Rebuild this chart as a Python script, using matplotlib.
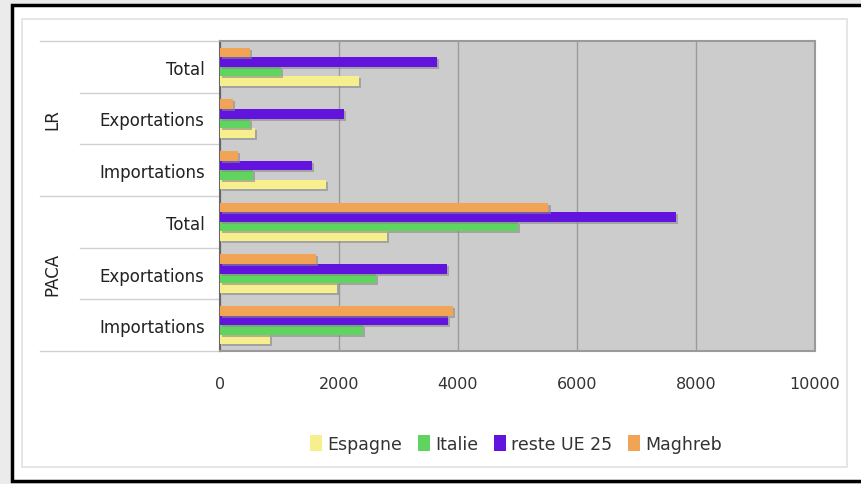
import numpy as np
import matplotlib
matplotlib.use("Agg")
import matplotlib.pyplot as plt
import matplotlib.patheffects as pe
from matplotlib.patches import Rectangle, Patch
from matplotlib.transforms import blended_transform_factory

# Echanges par region (bas -> haut sur l'axe)
categories = ["Importations", "Exportations", "Total",
              "Importations", "Exportations", "Total"]
regions = ["PACA", "LR"]

espagne = [840, 1960, 2800, 1780, 590, 2330]
italie = [2400, 2620, 5000, 550, 500, 1030]
reste_ue = [3830, 3820, 7660, 1540, 2080, 3640]
maghreb = [3920, 1620, 5520, 300, 220, 510]

series = [("Espagne", espagne, "#f7ef8e"),
          ("Italie", italie, "#5fd45f"),
          ("reste UE 25", reste_ue, "#6214de"),
          ("Maghreb", maghreb, "#f2a456")]

W, H = 861, 485
fig = plt.figure(figsize=(W / 100, H / 100), dpi=100, facecolor="#ebebeb")

# cadre noir et panneau blanc
fig.patches.append(Rectangle((12 / W, 1 - 482 / H), 860 / W, 476 / H,
                             transform=fig.transFigure, facecolor="white",
                             edgecolor="black", linewidth=2.5, zorder=-2))
fig.patches.append(Rectangle((22 / W, 1 - 468 / H), 825 / W, 448 / H,
                             transform=fig.transFigure, facecolor="white",
                             edgecolor="#e2e2e2", linewidth=1.2, zorder=-1))

ax = fig.add_axes([220 / W, 1 - 352 / H, 595 / W, 310 / H])
ax.set_facecolor("#cccccc")

y = np.arange(len(categories))
h = 0.185
shadow = [pe.SimplePatchShadow(offset=(1.5, -1.5), shadow_rgbFace="#888888", alpha=0.6),
          pe.Normal()]
handles = []
for i, (name, vals, col) in enumerate(series):
    bars = ax.barh(y + (i - 1.5) * h, vals, height=h, color=col, zorder=3)
    for b in bars:
        b.set_path_effects(shadow)
    handles.append(Patch(facecolor=col, label=name))

ax.set_xlim(0, 10000)
ax.set_ylim(-0.5, len(categories) - 0.5)
ax.set_xticks([0, 2000, 4000, 6000, 8000, 10000])
ax.xaxis.grid(True, color="#9a9a9a", linewidth=1)
ax.set_axisbelow(True)
ax.tick_params(axis="x", length=0, pad=18, labelsize=11.5, labelcolor="#333333")
ax.tick_params(axis="y", length=0, pad=11, labelsize=12, labelcolor="#222222")
ax.set_yticks(y)
ax.set_yticklabels(categories)
for s in ax.spines.values():
    s.set_color("#9a9a9a")
    s.set_linewidth(1.5)
ax.spines["left"].set_color("#666666")

# lignes de separation a gauche
tr = blended_transform_factory(ax.transAxes, ax.transData)
for yy in [0.5, 1.5, 3.5, 4.5]:
    ax.plot([-0.235, 0], [yy, yy], color="#d0d0d0", lw=1, transform=tr, clip_on=False)
for yy in [-0.5, 2.5, 5.5]:
    ax.plot([-0.3025, 0], [yy, yy], color="#d0d0d0", lw=1, transform=tr, clip_on=False)

ax.text(-0.282, 1.0, regions[0], transform=tr, rotation=90, ha="center", va="center",
        fontsize=12, color="#222222")
ax.text(-0.282, 4.0, regions[1], transform=tr, rotation=90, ha="center", va="center",
        fontsize=12, color="#222222")

fig.legend(handles=handles, loc="center", bbox_to_anchor=(516 / W, 1 - 445 / H), ncol=4,
           frameon=False, handlelength=0.7, handleheight=1.0, handletextpad=0.3,
           columnspacing=0.9, fontsize=12.5, labelcolor="#333333")

fig.savefig("out.png", dpi=100, facecolor=fig.get_facecolor())
